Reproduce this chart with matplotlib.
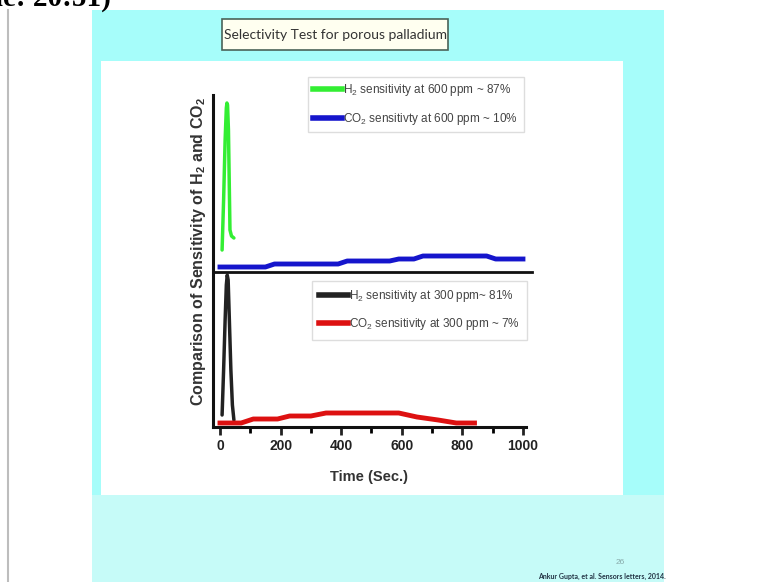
import matplotlib
matplotlib.use("Agg")
import matplotlib.pyplot as plt
from matplotlib.lines import Line2D
from matplotlib.patches import Rectangle

plt.rcParams["font.family"] = ["Liberation Sans", "DejaVu Sans"]
plt.rcParams["mathtext.default"] = "regular"

# data (y in arbitrary sensitivity units, stacked panels)
h2_600_time = [7, 12, 17, 21, 23, 25, 28, 31, 33, 38, 46]
h2_600_sens = [177, 227, 287, 319, 324, 322, 297, 237, 197, 191, 189]

co2_600_time = [0, 150, 180, 390, 420, 560, 590, 640, 670, 880, 910, 1000]
co2_600_sens = [160, 160, 163, 163, 166, 166, 168, 168, 171, 171, 168, 168]

h2_300_time = [7, 12, 17, 21, 24, 27, 31, 36, 41, 46]
h2_300_sens = [12, 57, 107, 142, 152, 147, 107, 57, 22, 7]

co2_300_time = [0, 70, 110, 190, 230, 300, 350, 590, 650, 720, 780, 840]
co2_300_sens = [4, 4, 8, 8, 11, 11, 14, 14, 10, 7, 4, 4]

divider_level = 155
xticks_major = [0, 200, 400, 600, 800, 1000]
xticks_minor = [100, 300, 500, 700, 900]

labels_top = ["H$_2$ sensitivity at 600 ppm ~ 87%", "CO$_2$ sensitivty at 600 ppm ~ 10%"]
labels_bottom = ["H$_2$ sensitivity at 300 ppm~ 81%", "CO$_2$ sensitivity at 300 ppm ~ 7%"]

W, H = 762, 582
fig = plt.figure(figsize=(W / 100, H / 100), dpi=100)
fig.patch.set_facecolor("white")


def fx(px):
    return px / W


def fy(py):
    return 1 - py / H


# slide background
fig.patches.append(Rectangle((fx(92), fy(582)), fx(664 - 92), (582 - 10) / H,
                             transform=fig.transFigure, facecolor="#a6fdfa", edgecolor="none", zorder=0))
fig.patches.append(Rectangle((fx(92), fy(582)), fx(664 - 92), (582 - 495) / H,
                             transform=fig.transFigure, facecolor="#c6fbf8", edgecolor="none", zorder=0))
fig.patches.append(Rectangle((fx(101), fy(495)), fx(623 - 101), (495 - 61) / H,
                             transform=fig.transFigure, facecolor="white", edgecolor="none", zorder=1))
fig.lines.append(Line2D([fx(8), fx(8)], [0, fy(10)], transform=fig.transFigure, color="#bdbdbd", lw=1.5))

# caption from the video, cropped at the top
fig.text(fx(111), fy(6), "(Refer Slide Time: 20:51)", ha="right", va="baseline",
         fontsize=21, fontweight="bold", family="Liberation Serif", color="black")

# title box
fig.patches.append(Rectangle((fx(222), fy(50)), fx(448 - 222), (50 - 19) / H,
                             transform=fig.transFigure, facecolor="#fffff0", edgecolor="#4a6358",
                             lw=1.2, zorder=3))
fig.text(fx(335), fy(35), "Selectivity Test for porous palladium", ha="center", va="center",
         fontsize=10, family="Lato", color="#333333", zorder=4)

ax = fig.add_axes([fx(213), fy(427), fx(526 - 213), (427 - 95) / H])
ax.set_zorder(5)
ax.patch.set_alpha(0)
ax.set_xlim(-23, 1010)
ax.set_ylim(0, 332)

ax.plot(h2_600_time, h2_600_sens, color="#33ee33", lw=2.5, solid_capstyle="round")
ax.plot(co2_600_time, co2_600_sens, color="#1515cc", lw=3.5)
ax.plot(h2_300_time, h2_300_sens, color="#222222", lw=2.5, solid_capstyle="round")
ax.plot(co2_300_time, co2_300_sens, color="#dd1111", lw=3.5)
ax.plot([-23, 1030], [divider_level, divider_level], color="#111111", lw=2, clip_on=False)

for s in ["top", "right"]:
    ax.spines[s].set_visible(False)
for s in ["left", "bottom"]:
    ax.spines[s].set_linewidth(2.2)
    ax.spines[s].set_color("#111111")

ax.set_xticks(xticks_major)
ax.set_xticks(xticks_minor, minor=True)
ax.set_yticks([])
ax.tick_params(axis="x", which="major", direction="out", length=6, width=2, pad=3,
               labelsize=10, colors="#222222")
ax.tick_params(axis="x", which="minor", direction="out", length=4, width=2)
for lab in ax.get_xticklabels():
    lab.set_fontweight("bold")

ax.set_xlabel("Time (Sec.)", fontsize=10.5, fontweight="bold", color="#333333", labelpad=12)
fig.text(fx(198), fy(252), "Comparison of Sensitivity of H$_2$ and CO$_2$", rotation=90,
         ha="center", va="center", fontsize=11.5, fontweight="bold", color="#333333")

top_handles = [Line2D([], [], color="#33ee33", lw=4), Line2D([], [], color="#1515cc", lw=4)]
bottom_handles = [Line2D([], [], color="#222222", lw=4), Line2D([], [], color="#dd1111", lw=4)]

leg1 = ax.legend(top_handles, labels_top, loc="upper left", bbox_to_anchor=(fx(308), fy(77)),
                 bbox_transform=fig.transFigure, borderaxespad=0, fancybox=False,
                 edgecolor="#dddddd", framealpha=1, fontsize=8.5, handlelength=2.45,
                 handletextpad=0.1, labelspacing=1.05, borderpad=0.45, labelcolor="#444444")
leg1.get_frame().set_linewidth(1)
ax.add_artist(leg1)
leg2 = ax.legend(bottom_handles, labels_bottom, loc="upper left", bbox_to_anchor=(fx(312), fy(281)),
                 bbox_transform=fig.transFigure, borderaxespad=0, fancybox=False,
                 edgecolor="#dddddd", framealpha=1, fontsize=8.5, handlelength=2.45,
                 handletextpad=0.1, labelspacing=1.05, borderpad=0.6, labelcolor="#444444")
leg2.get_frame().set_linewidth(1)

fig.text(fx(620), fy(563), "26", ha="center", va="center", fontsize=6, color="#88aaaa")
fig.text(fx(538), fy(579), "Ankur Gupta, et al. Sensors letters, 2014.", ha="left", va="baseline",
         fontsize=5, fontweight="bold", color="#223344", family="Lato")

fig.savefig("out.png", dpi=100)
